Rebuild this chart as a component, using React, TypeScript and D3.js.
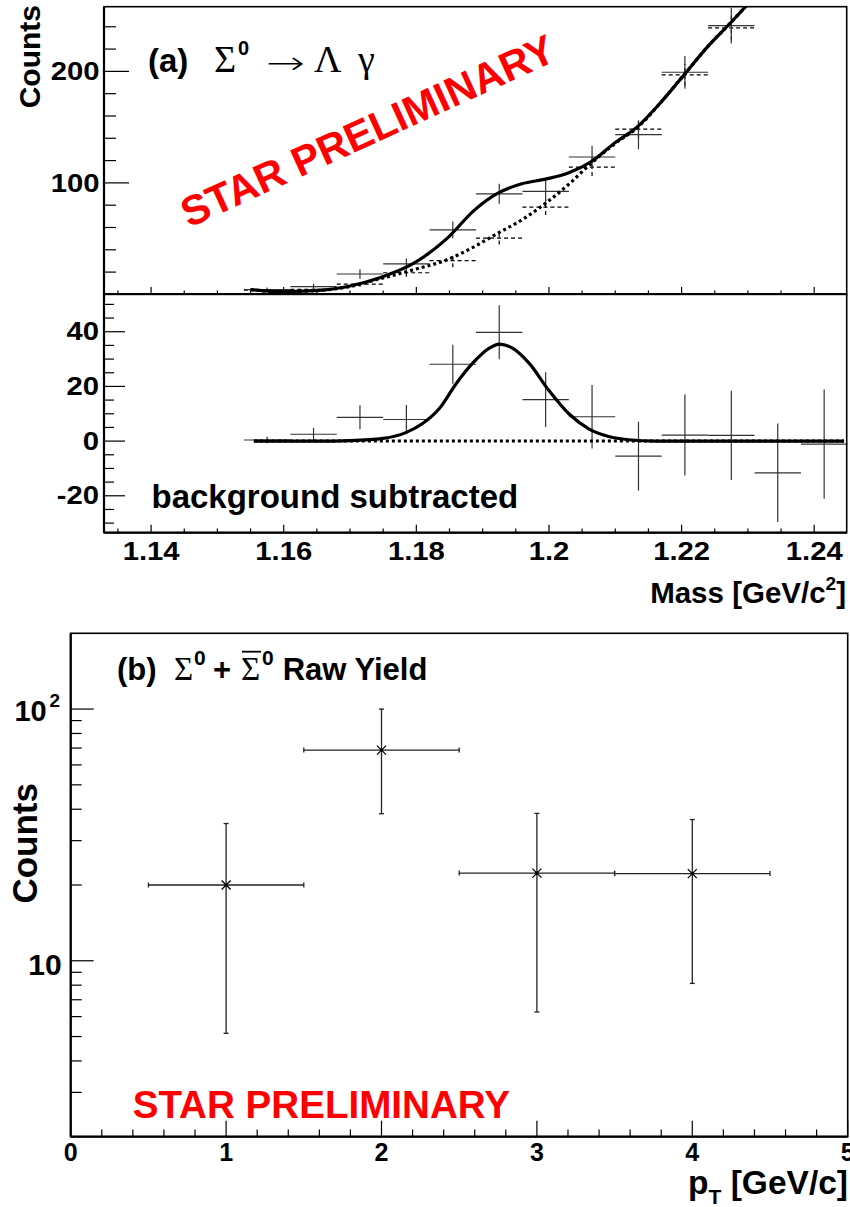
import React from 'react';
import * as d3 from 'd3';

// ---- panel (a), upper: invariant mass, same-event and background ----
const BIN_CENTERS = [1.1575, 1.1645, 1.1715, 1.1785, 1.1855, 1.1925, 1.1995, 1.2065, 1.2135, 1.2205, 1.2275, 1.2345, 1.2415];
const BIN_HALF = 0.0035;

const TOTAL_COUNTS = [4.2, 7.0, 18.3, 27.3, 57.9, 90.2, 92.3, 123.2, 143.2, 199.2, 241.1];
const TOTAL_ERR = [2.0, 2.6, 4.2, 5.0, 7.5, 9.0, 10.2, 10.2, 13.0, 14.7, 16.0];
const BKG_COUNTS = [3.8, 4.5, 9.3, 19.4, 30.3, 50.4, 78.2, 114.2, 148.3, 196.8, 239.0];
const BKG_ERR = [1.0, 1.5, 2.5, 3.5, 6.0, 5.7, 7.0, 8.0, 9.0, 10.0, 11.0];

// fit curves
const FIT_MASS = [1.155, 1.1594, 1.1645, 1.1695, 1.1745, 1.1795, 1.1846, 1.1888, 1.1923, 1.1959, 1.1995, 1.2029, 1.2064, 1.2099, 1.2134, 1.217, 1.2204, 1.224, 1.2274, 1.2298];
const FIT_TOTAL = [4.3, 2.4, 3.3, 6.9, 15.0, 27.5, 50.0, 75.8, 90.8, 99.2, 103.4, 108.8, 119.2, 135.8, 150.7, 173.1, 197.1, 222.6, 243.6, 259];
const FIT_BKG = [4.3, 2.4, 3.2, 6.5, 14.0, 22.0, 31.0, 43.0, 54.9, 66.8, 81.8, 98.3, 117.8, 135.0, 150.0, 173.1, 197.1, 222.6, 243.6, 259];

// ---- panel (a), lower: background subtracted ----
const SIGNAL_COUNTS = [0.4, 2.5, 8.7, 7.9, 28.1, 39.8, 15.2, 8.9, -5.5, 2.2, 2.1, -11.6, -1.1];
const SIGNAL_ERR = [1.2, 2.4, 4.4, 5.3, 7.1, 9.9, 10.0, 11.6, 12.6, 14.8, 16.3, 18.0, 20.0];
const GAUSS_MASS = [1.1555, 1.165, 1.17, 1.175, 1.1785, 1.181, 1.1835, 1.186, 1.1885, 1.191, 1.1925, 1.1945, 1.197, 1.2, 1.203, 1.206, 1.209, 1.212, 1.216, 1.2445];
const GAUSS_FIT = [0, 0, 0.2, 1.0, 3.2, 6.5, 12, 21, 28.5, 34, 35.5, 34, 28.5, 18.5, 10, 4.5, 1.7, 0.5, 0, 0];
const ZERO_RANGE = [1.1555, 1.2445];

// ---- panel (b): raw yield vs pT ----
const PT = [1, 2, 3, 4];
const PT_HALF = 0.5;
const YIELD = [20.0, 68.7, 22.3, 22.2];
const YIELD_HI = [35.1, 100, 38.5, 36.4];
const YIELD_LO = [5.15, 38.4, 6.26, 8.13];

// tick labels
const MASS_TICKS = [1.14, 1.16, 1.18, 1.2, 1.22, 1.24];
const MASS_LABELS = ['1.14', '1.16', '1.18', '1.2', '1.22', '1.24'];
const TOP_Y_TICKS = [100, 200];
const MID_Y_TICKS = [-20, 0, 20, 40];
const PT_TICKS = [0, 1, 2, 3, 4, 5];

const SANS = 'Liberation Sans, Arial, Helvetica, sans-serif';
const SERIF = 'Liberation Serif, Times New Roman, DejaVu Serif, serif';

const xMass = d3.scaleLinear().domain([1.1329, 1.2449]).range([104, 846.7]);
const yTop = d3.scaleLinear().domain([0, 258]).range([294.4, 6.7]);
const yMid = d3.scaleLinear().domain([-33.5, 53.8]).range([532.7, 294]);
const xPt = d3.scaleLinear().domain([0, 5]).range([70.7, 847.7]);
const yPt = d3.scaleLog().domain([2, 200]).range([1136.7, 633.3]);

const StretchLabel = ({ x, y, text, anchor, size = 25, sx = 1.17 }) => (
  <text transform={`translate(${x},${y}) scale(${sx},1)`} textAnchor={anchor}
    fontFamily={SANS} fontWeight="bold" fontSize={size} fill="#000">{text}</text>
);

const Crosses = ({ ys, errs, yS, dashed = false, color = '#333' }) => (
  <g stroke={color} strokeWidth={1.2} strokeDasharray={dashed ? '4,3' : undefined} fill="none">
    {ys.map((v, i) => {
      const cx = xMass(BIN_CENTERS[i]);
      return (
        <g key={i}>
          <line x1={xMass(BIN_CENTERS[i] - BIN_HALF)} x2={xMass(BIN_CENTERS[i] + BIN_HALF)} y1={yS(v)} y2={yS(v)} />
          <line x1={cx} x2={cx} y1={yS(v - errs[i])} y2={yS(v + errs[i])} />
        </g>
      );
    })}
  </g>
);

export default function App() {
  const massMinor = d3.range(1.135, 1.2451, 0.005).filter(m => xMass(m) < 846);
  const topMinor = d3.range(20, 258, 20);
  const midMinor = d3.range(-30, 51, 5);
  const ptMinor = d3.range(0, 5.01, 0.2);
  const logMinor = [3, 4, 5, 6, 7, 8, 9, 20, 30, 40, 50, 60, 70, 80, 90];

  const totalPath = d3.line<number>().x((_, i) => xMass(FIT_MASS[i])).y(d => yTop(d)).curve(d3.curveMonotoneX)(FIT_TOTAL);
  const bkgPath = d3.line<number>().x((_, i) => xMass(FIT_MASS[i])).y(d => yTop(d)).curve(d3.curveMonotoneX)(FIT_BKG);
  const gaussPath = d3.line<number>().x((_, i) => xMass(GAUSS_MASS[i])).y(d => yMid(d)).curve(d3.curveMonotoneX)(GAUSS_FIT);

  const [tx0, tx1] = xMass.range();
  const [ptx0, ptx1] = xPt.range();

  return (
    <svg width={850} height={1207} style={{ position: 'absolute', left: 0, top: 0, background: '#fff' }}>
      <rect width={850} height={1207} fill="#fff" />
      <defs>
        <clipPath id="clipTop"><rect x={tx0} y={yTop(258)} width={tx1 - tx0} height={yTop(0) - yTop(258)} /></clipPath>
      </defs>

      {/* ===== top panel ===== */}
      <g stroke="#000">
        {topMinor.map(v => (
          <line key={v} x1={tx0} x2={tx0 + (v % 100 === 0 ? 25 : 12)} y1={yTop(v)} y2={yTop(v)} strokeWidth={1.2} />
        ))}
        {massMinor.map(m => {
          const major = MASS_TICKS.some(t => Math.abs(t - m) < 1e-6);
          return <line key={m} x1={xMass(m)} x2={xMass(m)} y1={yTop(0)} y2={yTop(0) - (major ? 7.5 : 4)} strokeWidth={1.2} />;
        })}
      </g>
      {TOP_Y_TICKS.map(v => (
        <StretchLabel key={v} x={99.5} y={yTop(v) + 8.8} text={String(v)} anchor="end" />
      ))}
      <text transform="translate(40,5) rotate(-90)" textAnchor="end" fontFamily={SANS} fontWeight="bold" fontSize={30}>Counts</text>

      <text x={148} y={72} fontFamily={SANS} fontWeight="bold" fontSize={33}>(a)</text>
      <text x={214} y={72} fontFamily={SERIF} fontSize={38}>Σ</text>
      <text x={238} y={55} fontFamily={SANS} fontWeight="bold" fontSize={20}>0</text>
      <text transform="translate(266,74) scale(1.45,1)" fontFamily="DejaVu Sans" fontSize={32} fontWeight="300">→</text>
      <text x={314} y={72} fontFamily={SERIF} fontSize={38}>Λ</text>
      <text x={358} y={72} fontFamily={SERIF} fontSize={38}>γ</text>

      <text transform="translate(189,228) rotate(-24.5)" fontFamily={SANS} fontWeight="bold" fontSize={41.5} fill="#ff0000">STAR PRELIMINARY</text>

      <g clipPath="url(#clipTop)">
        <Crosses ys={BKG_COUNTS} errs={BKG_ERR} yS={yTop} dashed color="#000" />
        <Crosses ys={TOTAL_COUNTS} errs={TOTAL_ERR} yS={yTop} />
        <path d={bkgPath} fill="none" stroke="#000" strokeWidth={3.2} strokeDasharray="3,3" />
        <path d={totalPath} fill="none" stroke="#000" strokeWidth={3.2} />
      </g>
      <rect x={tx0} y={yTop(258)} width={tx1 - tx0} height={yTop(0) - yTop(258)} fill="none" stroke="#000" strokeWidth={1.6} />

      {/* ===== middle panel ===== */}
      <g stroke="#000">
        {midMinor.map(v => (
          <line key={v} x1={tx0} x2={tx0 + (v % 20 === 0 ? 21 : 10)} y1={yMid(v)} y2={yMid(v)} strokeWidth={1.2} />
        ))}
        {massMinor.map(m => {
          const major = MASS_TICKS.some(t => Math.abs(t - m) < 1e-6);
          return <line key={m} x1={xMass(m)} x2={xMass(m)} y1={yMid.range()[0]} y2={yMid.range()[0] - (major ? 8 : 4.3)} strokeWidth={1.2} />;
        })}
      </g>
      {MID_Y_TICKS.map(v => (
        <StretchLabel key={v} x={99} y={yMid(v) + 8.5} text={String(v)} anchor="end" />
      ))}
      {MASS_TICKS.map((m, i) => (
        <StretchLabel key={m} x={xMass(m)} y={559.5} text={MASS_LABELS[i]} anchor="middle" />
      ))}

      <Crosses ys={SIGNAL_COUNTS} errs={SIGNAL_ERR} yS={yMid} />
      <line x1={xMass(ZERO_RANGE[0])} x2={xMass(ZERO_RANGE[1])} y1={yMid(0)} y2={yMid(0)} stroke="#000" strokeWidth={3} strokeDasharray="3,3" />
      <path d={gaussPath} fill="none" stroke="#000" strokeWidth={3.2} />

      <text x={151.5} y={508.3} fontFamily={SANS} fontWeight="bold" fontSize={33}>background subtracted</text>
      <text x={846} y={603} textAnchor="end" fontFamily={SANS} fontWeight="bold" fontSize={29.5}>
        Mass [GeV/c<tspan dy={-13} fontSize={19}>2</tspan><tspan dy={13}>]</tspan>
      </text>
      <rect x={tx0} y={yMid.range()[1]} width={tx1 - tx0} height={yMid.range()[0] - yMid.range()[1]} fill="none" stroke="#000" strokeWidth={1.6} />
      <line x1={tx0} x2={tx1} y1={yMid.range()[1]} y2={yMid.range()[1]} stroke="#000" strokeWidth={2.2} />
      <line x1={tx0} x2={tx0} y1={yTop(258)} y2={yMid.range()[0]} stroke="#000" strokeWidth={2.2} />
      <line x1={tx0} x2={tx1} y1={yMid.range()[0]} y2={yMid.range()[0]} stroke="#000" strokeWidth={2.2} />

      {/* ===== bottom panel ===== */}
      <g stroke="#000">
        {[10, 100].map(v => (
          <line key={v} x1={ptx0} x2={ptx0 + 23} y1={yPt(v)} y2={yPt(v)} strokeWidth={1.2} />
        ))}
        {logMinor.map(v => (
          <line key={v} x1={ptx0} x2={ptx0 + 11} y1={yPt(v)} y2={yPt(v)} strokeWidth={1.2} />
        ))}
        {ptMinor.map(p => {
          const major = PT_TICKS.some(t => Math.abs(t - p) < 1e-6);
          return <line key={p} x1={xPt(p)} x2={xPt(p)} y1={yPt(2)} y2={yPt(2) - (major ? 16 : 7.3)} strokeWidth={1.2} />;
        })}
      </g>
      <text x={61.7} y={yPt(10) + 14} textAnchor="end" fontFamily={SANS} fontWeight="bold" fontSize={30}>10</text>
      <text x={46.7} y={yPt(100) + 12} textAnchor="end" fontFamily={SANS} fontWeight="bold" fontSize={29}>10</text>
      <text x={49.5} y={yPt(100) - 2} fontFamily={SANS} fontWeight="bold" fontSize={19}>2</text>
      {PT_TICKS.map(p => (
        <text key={p} x={xPt(p)} y={1161} textAnchor="middle" fontFamily={SANS} fontWeight="bold" fontSize={25}>{p}</text>
      ))}
      <text transform="translate(37,783) rotate(-90)" textAnchor="end" fontFamily={SANS} fontWeight="bold" fontSize={35}>Counts</text>
      <text x={848} y={1194} textAnchor="end" fontFamily={SANS} fontWeight="bold" fontSize={33.5}>
        p<tspan dy={10} fontSize={21}>T</tspan><tspan dy={-10}> [GeV/c]</tspan>
      </text>

      <text x={117} y={680} fontFamily={SANS} fontWeight="bold" fontSize={31}>(b)</text>
      <text x={174} y={680} fontFamily={SERIF} fontSize={33}>Σ</text>
      <text x={194} y={665} fontFamily={SANS} fontWeight="bold" fontSize={21}>0</text>
      <text x={213} y={680} fontFamily={SANS} fontWeight="bold" fontSize={31}>+</text>
      <text x={241} y={680} fontFamily={SERIF} fontSize={33}>Σ</text>
      <line x1={242} x2={261} y1={651.7} y2={651.7} stroke="#000" strokeWidth={1.8} />
      <text x={262} y={665} fontFamily={SANS} fontWeight="bold" fontSize={21}>0</text>
      <text x={282.7} y={680} fontFamily={SANS} fontWeight="bold" fontSize={31}>Raw Yield</text>

      <text x={132.7} y={1118.3} fontFamily={SANS} fontWeight="bold" fontSize={38.6} fill="#ff0000">STAR PRELIMINARY</text>

      <g stroke="#222" strokeWidth={1.3} fill="none">
        {PT.map((p, i) => {
          const cx = xPt(p);
          const cy = yPt(YIELD[i]);
          const xl = xPt(p - PT_HALF);
          const xr = xPt(p + PT_HALF);
          const yh = yPt(YIELD_HI[i]);
          const yl = yPt(YIELD_LO[i]);
          return (
            <g key={p}>
              <line x1={xl} x2={xr} y1={cy} y2={cy} />
              <line x1={cx} x2={cx} y1={yh} y2={yl} />
              <line x1={xl} x2={xl} y1={cy - 2.5} y2={cy + 2.5} />
              <line x1={xr} x2={xr} y1={cy - 2.5} y2={cy + 2.5} />
              <line x1={cx - 2.5} x2={cx + 2.5} y1={yh} y2={yh} />
              <line x1={cx - 2.5} x2={cx + 2.5} y1={yl} y2={yl} />
              <path d={`M${cx - 4.5},${cy - 4.5}L${cx + 4.5},${cy + 4.5}M${cx - 4.5},${cy + 4.5}L${cx + 4.5},${cy - 4.5}`} stroke="#000" />
              <circle cx={cx} cy={cy} r={1.8} fill="#000" stroke="none" />
            </g>
          );
        })}
      </g>
      <rect x={ptx0} y={yPt(200)} width={ptx1 - ptx0} height={yPt(2) - yPt(200)} fill="none" stroke="#000" strokeWidth={1.6} />
      <line x1={ptx0} x2={ptx0} y1={yPt(200)} y2={yPt(2)} stroke="#000" strokeWidth={2.2} />
      <line x1={ptx0} x2={ptx1} y1={yPt(2)} y2={yPt(2)} stroke="#000" strokeWidth={2.2} />
    </svg>
  );
}
